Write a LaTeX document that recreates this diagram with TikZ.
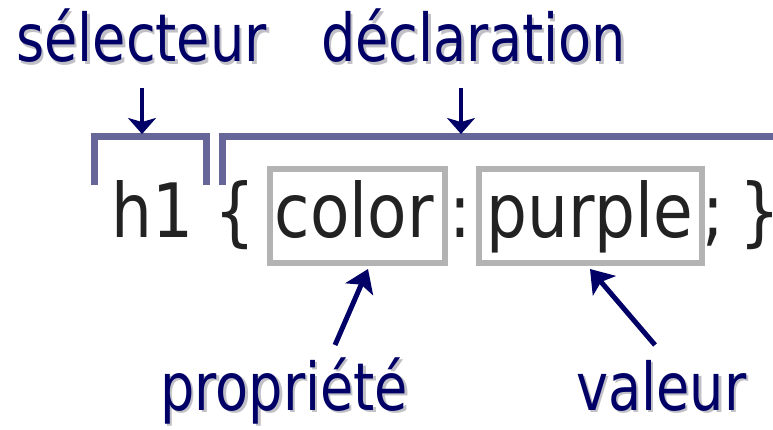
\documentclass[tikz,border=0pt]{standalone}
\usepackage{fontspec}
\setmainfont{DejaVu Sans}
\usetikzlibrary{arrows.meta}
\definecolor{navy}{RGB}{0,0,102}
\definecolor{brk}{RGB}{102,102,153}
\definecolor{boxgray}{RGB}{179,179,179}
\definecolor{codecol}{RGB}{34,34,34}
\definecolor{shade}{RGB}{192,192,198}
\newcommand\sqz[1]{\scalebox{0.82}[1]{#1}}
\newcommand\csq[1]{\scalebox{0.86}[1]{#1}}
\begin{document}
\begin{tikzpicture}[x=1pt,y=-1pt,
  lbl/.style={inner sep=0pt, anchor=base west, text=navy, font=\fontsize{66}{66}\selectfont},
  lblsh/.style={inner sep=0pt, anchor=base west, text=shade, font=\fontsize{66}{66}\selectfont},
  codetxt/.style={inner sep=0pt, anchor=base west, text=codecol, font=\fontsize{75}{75}\selectfont},
  hlbox/.style={draw=boxgray, line width=6pt, inner sep=0pt},
  brack/.style={draw=brk, line width=7pt},
  varr/.style={draw=navy, line width=4pt, -{Stealth[width=28pt,length=16pt,inset=4pt]}},
  darr/.style={draw=navy, line width=5pt, -{Stealth[width=30pt,length=22pt,inset=5pt]}}]
\useasboundingbox (0,0) rectangle (773,430);
% shadows
\node[lblsh] (selsh) at (18.5,64.5) {\sqz{sélecteur}};
\node[lblsh] (decsh) at (323.5,64.5) {\sqz{déclaration}};
\node[lblsh] (propsh) at (162.5,412.5) {\sqz{propriété}};
\node[lblsh] (valsh) at (578.5,412.5) {\sqz{valeur}};
% labels
\node[lbl] (sel) at (16,62) {\sqz{sélecteur}};
\node[lbl] (dec) at (321,62) {\sqz{déclaration}};
\node[lbl] (prop) at (160,410) {\sqz{propriété}};
\node[lbl] (val) at (576,410) {\sqz{valeur}};
% code
\node[codetxt] (ch1) at (111,237) {\csq{h1}};
\node[codetxt] (cob) at (214,237) {\csq{\{}};
\node[codetxt] (ccol) at (274.5,237) {\csq{color}};
\node[codetxt] (cc1) at (449,237) {\csq{:}};
\node[codetxt] (cpur) at (486,237) {\csq{purple}};
\node[codetxt] (cc2) at (702,237) {\csq{;}};
\node[codetxt] (ccb) at (739,237) {\csq{\}}};
% boxes
\node[hlbox, minimum width=175pt, minimum height=94pt] (bcolor) at (357.5,216) {};
\node[hlbox, minimum width=223pt, minimum height=94pt] (bpurple) at (590,216) {};
% brackets
\coordinate (b1a) at (94,185);
\coordinate (b1b) at (94,136.5);
\coordinate (b1c) at (206,136.5);
\coordinate (b1d) at (206,185);
\coordinate (b2a) at (222.5,185);
\coordinate (b2b) at (222.5,136.5);
\coordinate (b2c) at (773,136.5);
\draw[brack] (b1a) -- (b1b) -- (b1c) -- (b1d);
\draw[brack] (b2a) -- (b2b) -- (b2c);
% arrows
\coordinate (t1) at (142,88);
\coordinate (h1) at (142,134);
\coordinate (t2) at (461,88);
\coordinate (h2) at (461,134);
\draw[varr] (t1) -- (h1);
\draw[varr] (t2) -- (h2);
\coordinate (t3) at (335,345);
\coordinate (t4) at (655,345);
\draw[darr] (t3) -- ([xshift=10.5pt,yshift=-3pt]bcolor.south);
\draw[darr] (t4) -- ([yshift=-3pt]bpurple.south);
\end{tikzpicture}
\end{document}
